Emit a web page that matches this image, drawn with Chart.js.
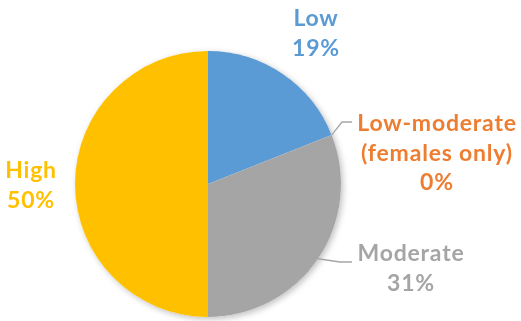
<!DOCTYPE html>
<html><head><meta charset="utf-8">
<script src="https://cdn.jsdelivr.net/npm/chart.js@4"></script>
<style>html,body{margin:0;padding:0;background:#fff}#w{width:521px;height:321px}</style>
</head><body><div id="w"><canvas id="c" width="521" height="321"></canvas></div>
<script>
const categories = ["Low", "Low-moderate\n(females only)", "Moderate", "High"];
const values = [19, 0, 31, 50];
const pctLabels = ["19%", "0%", "31%", "50%"];
const colors = ["#5B9BD5", "#ED7D31", "#A5A5A5", "#FFC000"];

// label layout (text centre x, first line y), and leader elbow (null = none)
const labelPos = [
  {x: 316, y: 19, leader: null},
  {x: 437, y: 124, leader: {ex: 342, ey: 122, hx: 352}},
  {x: 411, y: 254, leader: {ex: 340, ey: 262, hx: 352}},
  {x: 31, y: 171, leader: null}
];

const labelPlugin = {
  id: 'lbl',
  beforeDatasetsDraw(chart) {
    const ctx = chart.ctx;
    const meta = chart.getDatasetMeta(0);
    ctx.save();
    ctx.shadowColor = 'rgba(0,0,0,0.25)';
    ctx.shadowBlur = 6;
    ctx.shadowOffsetX = 2;
    ctx.shadowOffsetY = 2;
    const a = meta.data[0];
    ctx.fillStyle = '#fff';
    ctx.beginPath();
    ctx.arc(a.x, a.y, a.outerRadius, 0, Math.PI * 2);
    ctx.fill();
    ctx.restore();
  },
  afterDatasetsDraw(chart) {
    const ctx = chart.ctx;
    const meta = chart.getDatasetMeta(0);
    ctx.save();
    ctx.font = 'bold 23px Lato, "Open Sans", sans-serif';
    try { ctx.letterSpacing = '0.8px'; } catch (e) {}
    ctx.textAlign = 'center';
    ctx.textBaseline = 'middle';
    meta.data.forEach((arc, i) => {
      const p = labelPos[i];
      if (p.leader) {
        const mid = (arc.startAngle + arc.endAngle) / 2;
        const sx = arc.x + Math.cos(mid) * arc.outerRadius;
        const sy = arc.y + Math.sin(mid) * arc.outerRadius;
        ctx.strokeStyle = '#A6A6A6';
        ctx.lineWidth = 1.3;
        ctx.beginPath();
        ctx.moveTo(sx, sy);
        ctx.lineTo(p.leader.ex, p.leader.ey);
        ctx.lineTo(p.leader.hx, p.leader.ey);
        ctx.stroke();
      }
      const lines = categories[i].split("\n").concat([pctLabels[i]]);
      ctx.fillStyle = colors[i];
      lines.forEach((t, k) => ctx.fillText(t, p.x, p.y + k * 29.5));
    });
    ctx.restore();
  }
};

new Chart(document.getElementById('c'), {
  type: 'pie',
  data: {
    labels: categories,
    datasets: [{data: values, backgroundColor: colors, borderWidth: 0}]
  },
  options: {
    responsive: false,
    animation: false,
    layout: {padding: {left: 75, right: 180, top: 51, bottom: 4}},
    plugins: {legend: {display: false}, tooltip: {enabled: false}}
  },
  plugins: [labelPlugin]
});
</script></body></html>
